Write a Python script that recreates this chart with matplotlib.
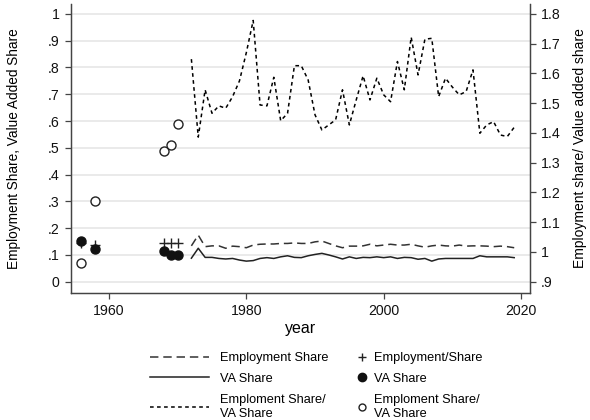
import matplotlib
matplotlib.use("Agg")
import matplotlib.pyplot as plt
from matplotlib.lines import Line2D

plt.rcParams['font.family'] = ['Liberation Sans', 'DejaVu Sans']

# ---- data ----
pt_years = [1956, 1958, 1968, 1969, 1970]
emp_pts = [0.145, 0.139, 0.143, 0.143, 0.143]
va_pts = [0.152, 0.121, 0.115, 0.100, 0.100]
ratio_pts = [0.069, 0.300, 0.490, 0.512, 0.590]

line_years = list(range(1972, 2020))
emp_share = [0.134, 0.174, 0.131, 0.134, 0.134, 0.125, 0.133, 0.131, 0.127, 0.137,
             0.140, 0.141, 0.141, 0.143, 0.143, 0.145, 0.143, 0.143, 0.149, 0.152,
             0.143, 0.134, 0.127, 0.133, 0.133, 0.134, 0.140, 0.134, 0.137, 0.140,
             0.137, 0.137, 0.140, 0.134, 0.129, 0.134, 0.137, 0.134, 0.133, 0.137,
             0.133, 0.134, 0.134, 0.133, 0.131, 0.133, 0.131, 0.127]
va_share = [0.088, 0.125, 0.091, 0.091, 0.087, 0.085, 0.087, 0.081, 0.077, 0.079,
            0.087, 0.090, 0.087, 0.093, 0.097, 0.091, 0.090, 0.097, 0.102, 0.106,
            0.100, 0.093, 0.085, 0.093, 0.087, 0.091, 0.090, 0.093, 0.090, 0.093,
            0.087, 0.091, 0.090, 0.084, 0.087, 0.077, 0.085, 0.087, 0.087, 0.087,
            0.087, 0.087, 0.097, 0.093, 0.093, 0.093, 0.093, 0.090]
ratio_line = [1.648, 1.386, 1.545, 1.466, 1.491, 1.483, 1.522, 1.575, 1.670, 1.778,
              1.494, 1.491, 1.587, 1.441, 1.466, 1.626, 1.626, 1.578, 1.461, 1.410,
              1.427, 1.444, 1.545, 1.427, 1.511, 1.592, 1.511, 1.584, 1.528, 1.505,
              1.640, 1.545, 1.722, 1.595, 1.715, 1.718, 1.522, 1.584, 1.554, 1.528,
              1.539, 1.612, 1.399, 1.427, 1.438, 1.393, 1.388, 1.419]

left_ticks = [0, .1, .2, .3, .4, .5, .6, .7, .8, .9, 1]
left_labels = ["0", ".1", ".2", ".3", ".4", ".5", ".6", ".7", ".8", ".9", "1"]
right_ticks = [.9, 1.0, 1.1, 1.2, 1.3, 1.4, 1.5, 1.6, 1.7, 1.8]
right_labels = [".9", "1", "1.1", "1.2", "1.3", "1.4", "1.5", "1.6", "1.7", "1.8"]
x_ticks = [1960, 1980, 2000, 2020]

# ---- figure ----
fig = plt.figure(figsize=(5.9, 4.2), dpi=100)
ax = fig.add_axes([70.5/590, 1-293/420, (530-70.5)/590, (293-4)/420])
ax2 = ax.twinx()

ylo, yhi = -0.042, 1.037
ax.set_ylim(ylo, yhi)
ax2.set_ylim(0.9 + 0.9*ylo, 0.9 + 0.9*yhi)
ax.set_xlim(1954.4, 2021.3)

ax.set_yticks(left_ticks)
ax.set_yticklabels(left_labels)
ax2.set_yticks(right_ticks)
ax2.set_yticklabels(right_labels)
ax.set_xticks(x_ticks)

for t in left_ticks:
    ax.axhline(t, color='#eaeaea', lw=1.4, zorder=0)

spine_col = '#444444'
for a in (ax, ax2):
    a.spines['top'].set_visible(False)
    for s in ('left', 'right', 'bottom'):
        a.spines[s].set_color(spine_col)
        a.spines[s].set_linewidth(0.9)
    a.tick_params(axis='both', direction='out', length=4, width=0.9,
                  color=spine_col, labelsize=10.2, labelcolor='#111111', pad=3.8)

ax.plot(line_years, emp_share, color='#333333', lw=1.1, dashes=(5.5, 3.2), zorder=3)
ax.plot(line_years, va_share, color='#222222', lw=1.1, zorder=3)
ax2.plot(line_years, ratio_line, color='black', lw=1.1, dashes=(2.4, 2.2), zorder=3)

ax.plot(pt_years, emp_pts, ls='none', marker='+', ms=7, mew=1.0, color='#222222', zorder=4)
ax.plot(pt_years, va_pts, ls='none', marker='o', ms=6.5, color='#111111', zorder=4)
ax.plot(pt_years, ratio_pts, ls='none', marker='o', ms=6.5, mfc='white', mec='#222222',
        mew=1.0, zorder=4)

ax.set_xlabel("year", fontsize=11.5, labelpad=2.5)
ax.set_ylabel("Employment Share, Value Added Share", fontsize=9.8, labelpad=19)
ax2.set_ylabel("Employment share/ Value added share", fontsize=10, labelpad=9)

h1 = [Line2D([], [], color='#333333', lw=1.1, dashes=(5.5, 3.2)),
      Line2D([], [], color='#222222', lw=1.1),
      Line2D([], [], color='black', lw=1.1, dashes=(2.4, 2.2))]
l1 = ["Employment Share", "VA Share", "Emploment Share/\nVA Share"]
h2 = [Line2D([], [], ls='none', marker='+', ms=6, mew=1.0, color='#222222'),
      Line2D([], [], ls='none', marker='o', ms=6, color='#111111'),
      Line2D([], [], ls='none', marker='o', ms=5, mfc='white', mec='#222222', mew=1.0)]
l2 = ["Employment/Share", "VA Share", "Emploment Share/\nVA Share"]

leg_kw = dict(loc='upper left', frameon=False, fontsize=9.2, labelspacing=0.7,
              borderaxespad=0, borderpad=0)
leg1 = fig.legend(h1, l1, bbox_to_anchor=(150/590, 1-352/420),
                  handlelength=4.6, handletextpad=0.85, **leg_kw)
leg2 = fig.legend(h2, l2, bbox_to_anchor=(355/590, 1-352/420),
                  handlelength=1.1, handletextpad=0.4, **leg_kw)

fig.savefig("out.png", dpi=100)
